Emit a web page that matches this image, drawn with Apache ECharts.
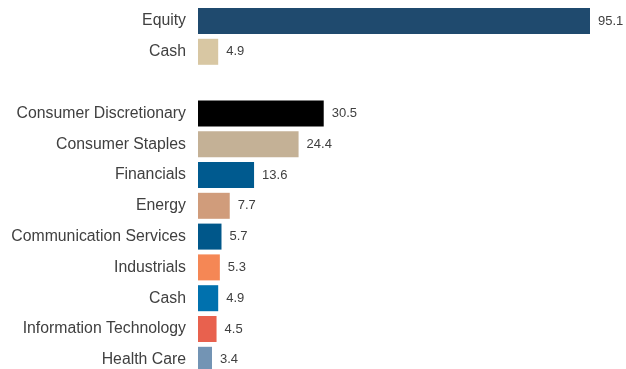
<!DOCTYPE html>
<html>
<head>
<meta charset="utf-8">
<script src="https://cdn.jsdelivr.net/npm/echarts@6/dist/echarts.min.js"></script>
<style>
  html, body { margin: 0; padding: 0; background: #fff; overflow: hidden; }
  /* the last row runs past the bottom edge of the window */
  #chart { width: 626px; height: 380px; }
</style>
</head>
<body>
<div id="chart"></div>
<script>
// Allocation by asset class, then by sector (blank row separates the two groups)
var categories = ['Equity', 'Cash', '', 'Consumer Discretionary', 'Consumer Staples', 'Financials',
  'Energy', 'Communication Services', 'Industrials', 'Cash ', 'Information Technology', 'Health Care'];
var values = [95.1, 4.9, null, 30.5, 24.4, 13.6, 7.7, 5.7, 5.3, 4.9, 4.5, 3.4];
var colors = ['#1f4a6e', '#d8c7a3', '#ffffff', '#000000', '#c4b196', '#005a8f',
  '#d09c7b', '#00578a', '#f58755', '#0071ae', '#e8614e', '#7394b4'];

var chart = echarts.init(document.getElementById('chart'), null, { renderer: 'canvas' });

chart.setOption({
  animation: false,
  grid: { left: 198, top: 5.6, width: 412.2, height: 369.6, containLabel: false },
  xAxis: {
    type: 'value', min: 0, max: 100,
    show: false
  },
  yAxis: {
    type: 'category',
    data: categories,
    inverse: true,
    axisLine: { show: false },
    axisTick: { show: false },
    splitLine: { show: false },
    axisLabel: {
      margin: 12,
      color: '#404040',
      fontSize: 15.8,
      fontFamily: 'Liberation Sans, Arial, sans-serif',
      formatter: function (v) { return v.trim(); }
    }
  },
  series: [{
    type: 'bar',
    barWidth: 26,
    data: values.map(function (v, i) {
      return { value: v, itemStyle: { color: colors[i] } };
    }),
    label: {
      show: true,
      position: 'right',
      distance: 8,
      color: '#404040',
      fontSize: 13,
      fontFamily: 'Liberation Sans, Arial, sans-serif',
      formatter: function (p) { return p.value == null ? '' : p.value.toFixed(1); }
    }
  }]
});
</script>
</body>
</html>
